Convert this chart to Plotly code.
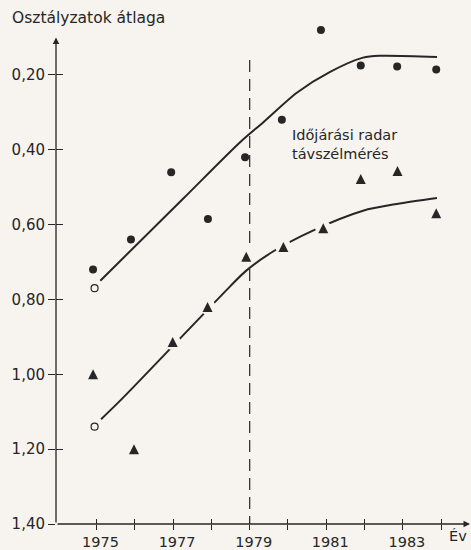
import plotly.graph_objects as go

# ---- data ----
years = [1975, 1976, 1977, 1978, 1979, 1980, 1981, 1982, 1983, 1984]
year_labels = ["1975", "", "1977", "", "1979", "", "1981", "", "1983", ""]
y_ticks = [0.20, 0.40, 0.60, 0.80, 1.00, 1.20, 1.40]

circle_x = [1974.91, 1975.90, 1976.95, 1977.91, 1978.88, 1979.84, 1980.86, 1981.90, 1982.85, 1983.87]
circle_y = [0.72, 0.64, 0.46, 0.585, 0.42, 0.32, 0.08, 0.175, 0.178, 0.186]

tri_x = [1974.91, 1975.98, 1976.99, 1977.90, 1978.91, 1979.88, 1980.92, 1981.90, 1982.86, 1983.87]
tri_y = [1.00, 1.20, 0.914, 0.82, 0.686, 0.66, 0.61, 0.478, 0.457, 0.57]

open_x = [1974.95, 1974.95]
open_y = [0.77, 1.14]

upper_x = [1975.10, 1977.26, 1978.75, 1979.35, 1980.24, 1981.10, 1981.96, 1982.40, 1983.89]
upper_y = [0.750, 0.531, 0.380, 0.327, 0.247, 0.192, 0.154, 0.149, 0.152]

lower_x = [1975.12, 1975.69, 1978.49, 1978.91, 1979.61, 1980.65, 1981.96, 1982.84, 1983.89]
lower_y = [1.120, 1.063, 0.765, 0.723, 0.672, 0.616, 0.563, 0.545, 0.529]

divider_x = [1979.0, 1979.0]
divider_y = [0.16, 1.40]

x_start, x_end = 1973.943, 1984.752      # axis origin / arrow tip (years)
y_bottom, y_top = 1.40, 0.10             # axis origin / arrow tip (values)
x_range = [x_start, x_end]
y_range = [1.40, 0.0]

BG = "#f7f4ef"
INK = "#262626"
FONT = "DejaVu Sans"
TRI = 10

fig = go.Figure()

fig.add_trace(go.Scatter(x=divider_x, y=divider_y, mode="lines",
                         line=dict(color=INK, width=1.2, dash="12px,7px"),
                         hoverinfo="skip"))
fig.add_trace(go.Scatter(x=upper_x, y=upper_y, mode="lines",
                         line=dict(color=INK, width=2, shape="spline", smoothing=0.8),
                         hoverinfo="skip"))
fig.add_trace(go.Scatter(x=lower_x, y=lower_y, mode="lines",
                         line=dict(color=INK, width=2, shape="spline", smoothing=0.8),
                         hoverinfo="skip"))
# paper-coloured halo behind triangles (breaks the curve around them)
fig.add_trace(go.Scatter(x=tri_x, y=tri_y, mode="markers", cliponaxis=False,
                         marker=dict(symbol="circle", size=16, color=BG, line=dict(width=0)),
                         hoverinfo="skip"))
fig.add_trace(go.Scatter(x=circle_x, y=circle_y, mode="markers", cliponaxis=False,
                         marker=dict(symbol="circle", size=8, color=INK, line=dict(width=0))))
fig.add_trace(go.Scatter(x=tri_x, y=tri_y, mode="markers", cliponaxis=False,
                         marker=dict(symbol="arrow-down", angle=180, standoff=TRI / 2,
                                     size=TRI, color=INK, line=dict(width=0))))
fig.add_trace(go.Scatter(x=open_x, y=open_y, mode="markers", cliponaxis=False,
                         marker=dict(symbol="circle-open", size=7, color=INK,
                                     line=dict(color=INK, width=1.2))))
# helper trace for the overlay axes (inner halves of the crossing ticks)
fig.add_trace(go.Scatter(x=[years[0]], y=[y_ticks[0]], xaxis="x2", yaxis="y2",
                         mode="markers", marker=dict(opacity=0), hoverinfo="skip"))

axis_common = dict(showgrid=False, zeroline=False, showline=False, color=INK,
                   tickcolor=INK, tickwidth=1.2, fixedrange=True)

fig.update_layout(
    width=471, height=550,
    margin=dict(l=56, r=1, t=0, b=23),
    paper_bgcolor=BG, plot_bgcolor=BG,
    showlegend=False,
    separators=", ",
    font=dict(family=FONT, color=INK),
    xaxis=dict(range=x_range, tickvals=years, ticktext=year_labels,
               ticks="outside", ticklen=5, ticklabelshift=4,
               tickfont=dict(size=14.5, family=FONT, color=INK), **axis_common),
    yaxis=dict(range=y_range, tickvals=y_ticks, tickformat=".2f",
               ticks="outside", ticklen=7,
               tickfont=dict(size=15, family=FONT, color=INK), **axis_common),
    xaxis2=dict(range=x_range, tickvals=years, overlaying="x", anchor="y", side="bottom",
                ticks="inside", ticklen=5, showticklabels=False, **axis_common),
    yaxis2=dict(range=y_range, tickvals=y_ticks, overlaying="y", anchor="x", side="left",
                ticks="inside", ticklen=7, showticklabels=False, **axis_common),
    annotations=[
        # x axis with arrow
        dict(x=x_end, y=y_bottom, ax=x_start, ay=y_bottom, xref="x", yref="y",
             axref="x", ayref="y", text="", showarrow=True,
             arrowhead=2, arrowsize=1, arrowwidth=1.3, arrowcolor=INK),
        # y axis with arrow
        dict(x=x_start, y=y_top, ax=x_start, ay=y_bottom, xref="x", yref="y",
             axref="x", ayref="y", text="", showarrow=True,
             arrowhead=2, arrowsize=1, arrowwidth=1.3, arrowcolor=INK),
        dict(x=-0.111, y=1.0, xref="paper", yref="paper", yshift=-18,
             text="Osztályzatok átlaga", showarrow=False,
             xanchor="left", yanchor="middle",
             font=dict(size=15.5, family=FONT, color=INK)),
        dict(x=0.971, y=-0.023, xref="paper", yref="paper", text="Év", showarrow=False,
             xanchor="center", yanchor="middle",
             font=dict(size=14.5, family=FONT, color=INK)),
        dict(x=1980.05, y=0.385, xref="x", yref="y",
             text="Időjárási radar<br>távszélmérés", showarrow=False,
             xanchor="left", yanchor="middle", align="left",
             font=dict(size=14.5, family=FONT, color=INK)),
    ],
)

fig.write_html("out.html")
